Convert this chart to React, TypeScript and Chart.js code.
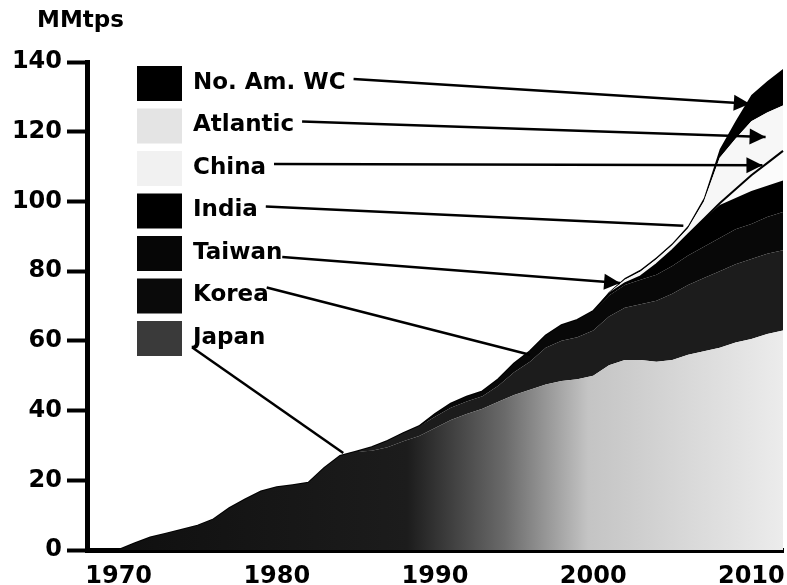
import React, { useEffect, useRef } from "react";
import { Chart, registerables } from "chart.js";

Chart.register(...registerables);

// ---- data (MMtps per year) ----
const years = [
  1968, 1969, 1970, 1971, 1972, 1973, 1974, 1975, 1976, 1977, 1978, 1979,
  1980, 1981, 1982, 1983, 1984, 1985, 1986, 1987, 1988, 1989, 1990, 1991,
  1992, 1993, 1994, 1995, 1996, 1997, 1998, 1999, 2000, 2001, 2002, 2003,
  2004, 2005, 2006, 2007, 2008, 2009, 2010, 2011, 2012,
];

const japan = [
  0, 0, 0, 1.9, 3.6, 4.7, 5.8, 7.0, 8.8, 12.0, 14.5, 16.8,
  18.0, 18.6, 19.3, 23.5, 27.0, 28.2, 28.5, 29.5, 31.2, 32.7, 35.0, 37.3,
  39.0, 40.5, 42.5, 44.5, 46.0, 47.5, 48.5, 49.0, 50.0, 53.0, 54.5, 54.5,
  54.0, 54.5, 56.0, 57.0, 58.0, 59.5, 60.5, 62.0, 63.0,
];
const korea = [
  0, 0, 0, 0, 0, 0, 0, 0, 0, 0, 0, 0,
  0, 0, 0, 0, 0, 0, 1.0, 1.8, 2.3, 2.8, 3.2, 3.5,
  3.6, 3.6, 4.6, 6.5, 8.0, 10.5, 11.5, 12.0, 13.0, 14.0, 15.0, 16.0,
  17.5, 19.0, 20.0, 21.0, 22.0, 22.5, 23.0, 23.0, 23.0,
];
const taiwan = [
  0, 0, 0, 0, 0, 0, 0, 0, 0, 0, 0, 0,
  0, 0, 0, 0, 0, 0, 0, 0, 0, 0, 0.8, 1.2,
  1.4, 1.4, 1.9, 2.5, 3.0, 3.5, 4.5, 5.0, 5.5, 6.0, 6.5, 7.0,
  7.5, 8.0, 8.5, 9.0, 9.5, 10.0, 10.0, 10.5, 11.0,
];
const india = [
  0, 0, 0, 0, 0, 0, 0, 0, 0, 0, 0, 0,
  0, 0, 0, 0, 0, 0, 0, 0, 0, 0, 0, 0,
  0, 0, 0, 0, 0, 0, 0, 0, 0, 0.5, 0.5, 1.0,
  3.0, 4.5, 6.0, 8.0, 9.5, 9.0, 9.5, 9.0, 9.0,
];
const china = [
  0, 0, 0, 0, 0, 0, 0, 0, 0, 0, 0, 0,
  0, 0, 0, 0, 0, 0, 0, 0, 0, 0, 0, 0,
  0, 0, 0, 0, 0, 0, 0, 0, 0, 0, 0, 0,
  0, 0, 0, 0, 0.5, 2.5, 4.5, 6.5, 8.5,
];
const atlantic = [
  0, 0, 0, 0, 0, 0, 0, 0, 0, 0, 0, 0,
  0, 0, 0, 0, 0, 0, 0, 0, 0, 0, 0, 0,
  0, 0, 0, 0, 0, 0, 0, 0, 0, 0.2, 1.0, 1.4,
  1.4, 1.4, 1.8, 5.0, 13.0, 14.5, 15.5, 14.5, 13.0,
];
const noAmWC = [
  0, 0, 0, 0, 0, 0, 0, 0, 0, 0, 0, 0,
  0, 0, 0, 0, 0, 0, 0, 0, 0, 0, 0, 0,
  0, 0, 0, 0, 0, 0, 0, 0, 0, 0.3, 0.5, 0.6,
  0.6, 0.6, 0.7, 1.0, 2.5, 5.0, 7.5, 9.0, 10.5,
];

const seriesNames = ["Japan", "Korea", "Taiwan", "India", "China", "Atlantic", "No. Am. WC"];
const seriesValues = [japan, korea, taiwan, india, china, atlantic, noAmWC];
const xTickYears = [1970, 1980, 1990, 2000, 2010];
const yMax = 140;
const yStep = 20;
const unitLabel = "MMtps";

// leader-line targets in data units: [year, value] (legend order top->bottom)
const leaderYears = [2009.9, 2010.9, 2010.7, 2005.7, 2001.7, 1996.0, 1984.2];
const leaderValues = [128, 118.5, 110.4, 93, 76.6, 56, 27.8];
const leaderArrow = [true, true, true, false, true, false, false];

// ---- styles ----
const areaColors = ["#1a1a1a", "#1c1c1c", "#080808", "#000000", "#fbfbfb", "#f7f7f7", "#000000"];
const swatchColors = ["#3a3a3a", "#0a0a0a", "#060606", "#000000", "#f1f1f1", "#e4e4e4", "#000000"];
const FONT = '"DejaVu Sans", "Liberation Sans", Arial, sans-serif';

function japanFill(ctx: any) {
  const chart = ctx.chart;
  const area = chart.chartArea;
  if (!area) return "#555";
  const g = chart.ctx.createLinearGradient(area.left, 0, area.right, 0);
  g.addColorStop(0, "#0e0e0e");
  g.addColorStop(0.46, "#1c1c1c");
  g.addColorStop(0.6, "#6a6a6a");
  g.addColorStop(0.72, "#c4c4c4");
  g.addColorStop(1, "#ececec");
  return g;
}

const overlayPlugin = {
  id: "overlay",
  afterDraw(chart: any) {
    const { ctx } = chart;
    const xs = chart.scales.x;
    const ys = chart.scales.y;
    ctx.save();
    ctx.fillStyle = "#000";
    ctx.textAlign = "left";
    ctx.textBaseline = "middle";
    ctx.font = `bold 23px ${FONT}`;
    ctx.fillText(unitLabel, 37, 21);

    const order = [6, 5, 4, 3, 2, 1, 0];
    order.forEach((idx, row) => {
      const cy = 83 + row * 42.5;
      ctx.fillStyle = swatchColors[idx];
      ctx.fillRect(137, cy - 17, 45, 35);
      ctx.fillStyle = "#000";
      ctx.font = `bold 23px ${FONT}`;
      const name = seriesNames[idx];
      ctx.fillText(name, 193, cy);
      const w = ctx.measureText(name).width;

      let sx = 193 + w + 8;
      let sy = cy - 4;
      if (row === 4) { sx = 193 + w; sy = cy + 4; }
      if (row === 5) { sx = 193 + w - 2; sy = cy - 8; }
      if (row === 6) { sx = 193; sy = cy + 10; }
      const tx = xs.getPixelForValue(leaderYears[row] - years[0]);
      const ty = ys.getPixelForValue(leaderValues[row]);

      ctx.strokeStyle = "#000";
      ctx.lineWidth = 2.5;
      ctx.beginPath();
      ctx.moveTo(sx, sy);
      ctx.lineTo(tx, ty);
      ctx.stroke();

      if (leaderArrow[row]) {
        const ang = Math.atan2(ty - sy, tx - sx);
        const len = 16;
        const half = 8;
        const bx = tx - Math.cos(ang) * len;
        const by = ty - Math.sin(ang) * len;
        ctx.fillStyle = "#000";
        ctx.beginPath();
        ctx.moveTo(tx, ty);
        ctx.lineTo(bx + Math.sin(ang) * half, by - Math.cos(ang) * half);
        ctx.lineTo(bx - Math.sin(ang) * half, by + Math.cos(ang) * half);
        ctx.closePath();
        ctx.fill();
      }
    });
    ctx.restore();
  },
};

export default function App() {
  const canvasRef = useRef<HTMLCanvasElement | null>(null);

  useEffect(() => {
    if (!canvasRef.current) return;
    const datasets = seriesValues.map((vals, i) => ({
      label: seriesNames[i],
      data: vals,
      backgroundColor: i === 0 ? japanFill : areaColors[i],
      borderColor: "#000",
      borderWidth: i === 4 ? 2 : 0,
      pointRadius: 0,
      tension: 0,
      fill: i === 0 ? "origin" : "-1",
    }));

    const chart = new Chart(canvasRef.current, {
      type: "line",
      data: { labels: years.map(String), datasets: datasets as any },
      options: {
        animation: false,
        responsive: false,
        devicePixelRatio: 1,
        layout: { padding: { top: 62, right: 4, left: 0, bottom: 0 } },
        plugins: { legend: { display: false }, tooltip: { enabled: false } },
        scales: {
          x: {
            type: "category",
            grid: { display: true, drawOnChartArea: false, drawTicks: false },
            border: { display: true, color: "#000", width: 5 },
            ticks: {
              autoSkip: false,
              maxRotation: 0,
              padding: 12,
              color: "#000",
              font: { family: FONT, size: 24, weight: "bold" },
              callback: (_v: any, index: number) =>
                xTickYears.includes(years[index]) ? String(years[index]) : null,
            },
            afterFit: (scale: any) => {
              scale.height = 35;
              scale.paddingLeft = 0;
              scale.paddingRight = 0;
            },
          },
          y: {
            stacked: true,
            min: 0,
            max: yMax,
            grid: {
              display: true,
              drawOnChartArea: false,
              drawTicks: true,
              tickLength: 20,
              tickWidth: 4,
              tickColor: "#000",
            },
            border: { display: true, color: "#000", width: 5 },
            ticks: {
              stepSize: yStep,
              padding: 5,
              color: "#000",
              font: { family: FONT, size: 24, weight: "bold" },
            },
            afterFit: (scale: any) => { scale.width = 87; },
          },
        },
      },
      plugins: [overlayPlugin],
    });
    return () => chart.destroy();
  }, []);

  return (
    <div style={{ position: "fixed", left: 0, top: 0, width: 787, height: 585, background: "#fff" }}>
      <canvas ref={canvasRef} width={787} height={585} />
    </div>
  );
}
